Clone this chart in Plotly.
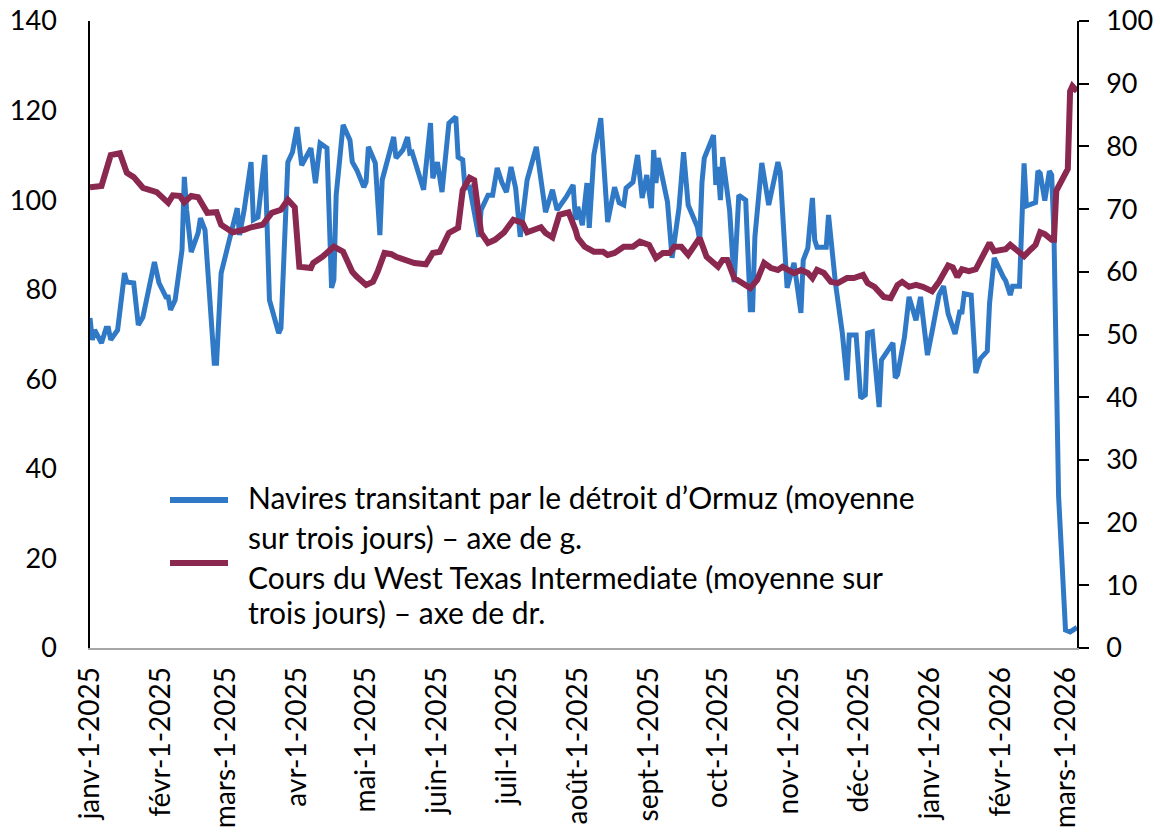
import plotly.graph_objects as go

# --- Data -------------------------------------------------------------
ships_dates = [
    "2025-01-01", "2025-01-02", "2025-01-03", "2025-01-06", "2025-01-08", "2025-01-09", "2025-01-10",
    "2025-01-13", "2025-01-16", "2025-01-17", "2025-01-20", "2025-01-22", "2025-01-24", "2025-01-26",
    "2025-01-29", "2025-01-31", "2025-02-03", "2025-02-04", "2025-02-05", "2025-02-07", "2025-02-10",
    "2025-02-11", "2025-02-12", "2025-02-14", "2025-02-17", "2025-02-18", "2025-02-20", "2025-02-24",
    "2025-02-25", "2025-02-27", "2025-03-04", "2025-03-06", "2025-03-07", "2025-03-09", "2025-03-12",
    "2025-03-13", "2025-03-15", "2025-03-18", "2025-03-20", "2025-03-24", "2025-03-25", "2025-03-28",
    "2025-03-30", "2025-04-01", "2025-04-03", "2025-04-07", "2025-04-09", "2025-04-11", "2025-04-14",
    "2025-04-16", "2025-04-17", "2025-04-18", "2025-04-21", "2025-04-24", "2025-04-25", "2025-04-27",
    "2025-04-30", "2025-05-01", "2025-05-02", "2025-05-05", "2025-05-07", "2025-05-08", "2025-05-13",
    "2025-05-14", "2025-05-17", "2025-05-19", "2025-05-20", "2025-05-21", "2025-05-26", "2025-05-29",
    "2025-05-30", "2025-06-01", "2025-06-03", "2025-06-06", "2025-06-09", "2025-06-10", "2025-06-12",
    "2025-06-13", "2025-06-15", "2025-06-19", "2025-06-20", "2025-06-23", "2025-06-25", "2025-06-27",
    "2025-06-29", "2025-07-01", "2025-07-03", "2025-07-05", "2025-07-07", "2025-07-10", "2025-07-14",
    "2025-07-18", "2025-07-21", "2025-07-23", "2025-07-27", "2025-07-30", "2025-07-31", "2025-08-01",
    "2025-08-03", "2025-08-05", "2025-08-06", "2025-08-08", "2025-08-11", "2025-08-14", "2025-08-17",
    "2025-08-19", "2025-08-21", "2025-08-22", "2025-08-25", "2025-08-27", "2025-08-29", "2025-08-31",
    "2025-09-02", "2025-09-03", "2025-09-04", "2025-09-05", "2025-09-09", "2025-09-11", "2025-09-14",
    "2025-09-16", "2025-09-18", "2025-09-22", "2025-09-23", "2025-09-24", "2025-09-25", "2025-09-29",
    "2025-09-30", "2025-10-01", "2025-10-02", "2025-10-03", "2025-10-06", "2025-10-08", "2025-10-10",
    "2025-10-13", "2025-10-15", "2025-10-16", "2025-10-17", "2025-10-20", "2025-10-23", "2025-10-27",
    "2025-10-28", "2025-10-31", "2025-11-03", "2025-11-06", "2025-11-07", "2025-11-09", "2025-11-11",
    "2025-11-12", "2025-11-13", "2025-11-17", "2025-11-18", "2025-11-21", "2025-11-24", "2025-11-26",
    "2025-11-27", "2025-11-30", "2025-12-02", "2025-12-04", "2025-12-05", "2025-12-07", "2025-12-10",
    "2025-12-11", "2025-12-16", "2025-12-17", "2025-12-18", "2025-12-21", "2025-12-23", "2025-12-26",
    "2025-12-28", "2025-12-31", "2026-01-02", "2026-01-05", "2026-01-07", "2026-01-09", "2026-01-12",
    "2026-01-13", "2026-01-14", "2026-01-15", "2026-01-16", "2026-01-19", "2026-01-21", "2026-01-23",
    "2026-01-26", "2026-01-27", "2026-01-29", "2026-02-02", "2026-02-03", "2026-02-05", "2026-02-06",
    "2026-02-09", "2026-02-10", "2026-02-11", "2026-02-12", "2026-02-16", "2026-02-17", "2026-02-18",
    "2026-02-20", "2026-02-22", "2026-02-23", "2026-02-24", "2026-02-26", "2026-03-01", "2026-03-03",
    "2026-03-06",
]
ships_values = [
    73.7, 68.8, 71.0, 68.1, 71.4, 71.4, 68.8,
    71.0, 83.7, 81.7, 81.5, 72.1, 73.9, 78.4,
    86.2, 81.5, 78.4, 78.4, 75.5, 77.7, 88.9,
    105.2, 97.8, 88.4, 92.7, 96.0, 93.3, 63.6,
    63.6, 83.7, 93.8, 98.2, 92.2, 97.8, 108.5,
    95.6, 96.2, 110.1, 77.7, 70.3, 71.4, 108.5,
    110.7, 116.3, 107.8, 111.6, 103.8, 112.7, 111.6,
    80.4, 82.2, 101.1, 116.8, 113.4, 108.5, 106.7,
    102.9, 104.0, 111.9, 108.3, 92.2, 104.5, 114.1,
    109.4, 111.2, 114.1, 110.5, 110.7, 102.3, 117.2,
    104.9, 108.5, 101.8, 117.2, 118.6, 109.6, 109.0,
    102.7, 102.9, 91.8, 97.8, 101.1, 101.1, 107.2,
    104.0, 101.8, 107.4, 102.7, 91.8, 104.5, 111.9,
    97.3, 102.3, 97.8, 100.7, 103.4, 95.6, 98.5,
    94.4, 103.8, 93.8, 110.1, 118.3, 95.1, 102.9,
    99.4, 98.9, 102.7, 104.0, 110.1, 100.5, 105.6,
    98.2, 111.2, 103.8, 109.4, 99.6, 87.1, 98.2,
    110.7, 98.9, 94.0, 91.1, 104.0, 109.4, 114.5,
    103.4, 107.4, 100.0, 109.6, 97.8, 81.7, 101.1,
    100.0, 75.5, 75.5, 91.8, 108.3, 98.9, 108.5,
    106.3, 80.4, 86.0, 74.8, 86.6, 89.3, 100.5,
    91.1, 89.5, 89.5, 96.7, 81.5, 70.3, 59.8,
    69.9, 69.9, 55.8, 56.5, 70.3, 70.6, 53.8,
    64.3, 68.1, 60.3, 61.0, 69.4, 78.4, 73.2,
    78.4, 65.4, 70.6, 78.8, 80.8, 74.6, 70.1,
    72.1, 75.0, 75.0, 79.1, 78.8, 61.4, 64.6,
    66.3, 77.0, 87.1, 82.8, 82.0, 78.8, 80.8,
    80.8, 99.1, 108.2, 98.7, 99.5, 106.5, 106.0,
    99.9, 106.5, 105.6, 92.0, 33.9, 4.0, 3.6,
    4.6,
]

wti_dates = [
    "2025-01-01", "2025-01-06", "2025-01-10", "2025-01-14", "2025-01-17", "2025-01-20", "2025-01-24",
    "2025-01-28", "2025-01-30", "2025-02-04", "2025-02-06", "2025-02-09", "2025-02-11", "2025-02-14",
    "2025-02-17", "2025-02-21", "2025-02-25", "2025-02-27", "2025-03-04", "2025-03-09", "2025-03-12",
    "2025-03-17", "2025-03-21", "2025-03-25", "2025-03-28", "2025-03-31", "2025-04-02", "2025-04-07",
    "2025-04-08", "2025-04-12", "2025-04-17", "2025-04-21", "2025-04-25", "2025-04-27", "2025-05-01",
    "2025-05-04", "2025-05-06", "2025-05-09", "2025-05-12", "2025-05-14", "2025-05-18", "2025-05-22",
    "2025-05-27", "2025-05-30", "2025-06-02", "2025-06-06", "2025-06-10", "2025-06-12", "2025-06-15",
    "2025-06-17", "2025-06-20", "2025-06-23", "2025-06-26", "2025-06-30", "2025-07-04", "2025-07-08",
    "2025-07-10", "2025-07-16", "2025-07-18", "2025-07-21", "2025-07-24", "2025-07-28", "2025-07-31",
    "2025-08-01", "2025-08-04", "2025-08-08", "2025-08-12", "2025-08-14", "2025-08-17", "2025-08-21",
    "2025-08-25", "2025-08-28", "2025-09-01", "2025-09-04", "2025-09-07", "2025-09-10", "2025-09-12",
    "2025-09-15", "2025-09-18", "2025-09-21", "2025-09-23", "2025-09-26", "2025-10-01", "2025-10-03",
    "2025-10-05", "2025-10-08", "2025-10-12", "2025-10-15", "2025-10-18", "2025-10-21", "2025-10-24",
    "2025-10-27", "2025-10-29", "2025-11-01", "2025-11-03", "2025-11-06", "2025-11-09", "2025-11-11",
    "2025-11-13", "2025-11-16", "2025-11-19", "2025-11-22", "2025-11-26", "2025-11-29", "2025-12-03",
    "2025-12-05", "2025-12-08", "2025-12-12", "2025-12-15", "2025-12-18", "2025-12-20", "2025-12-23",
    "2025-12-26", "2025-12-29", "2026-01-02", "2026-01-05", "2026-01-08", "2026-01-09", "2026-01-11",
    "2026-01-13", "2026-01-15", "2026-01-18", "2026-01-21", "2026-01-23", "2026-01-25", "2026-01-27",
    "2026-01-29", "2026-02-03", "2026-02-05", "2026-02-07", "2026-02-11", "2026-02-14", "2026-02-16",
    "2026-02-18", "2026-02-20", "2026-02-23", "2026-02-24", "2026-02-25", "2026-02-27", "2026-03-02",
    "2026-03-03", "2026-03-04", "2026-03-06",
]
wti_values = [
    73.5, 73.7, 78.6, 78.9, 75.8, 75.1, 73.4,
    72.9, 72.7, 71.0, 72.2, 72.1, 71.1, 72.1,
    71.9, 69.4, 69.5, 67.5, 66.3, 66.7, 67.1,
    67.5, 69.4, 69.9, 71.5, 70.3, 60.8, 60.6,
    61.4, 62.4, 64.0, 63.2, 60.0, 59.2, 57.9,
    58.4, 60.0, 63.0, 62.8, 62.4, 61.9, 61.4,
    61.2, 63.0, 63.2, 66.2, 67.0, 73.0, 75.0,
    74.6, 66.2, 64.6, 65.1, 66.3, 68.3, 67.8,
    66.3, 67.1, 66.2, 65.5, 69.1, 69.5, 66.7,
    65.4, 64.0, 63.2, 63.2, 62.7, 63.0, 64.0,
    64.0, 64.8, 64.3, 62.2, 63.0, 63.0, 64.0,
    64.0, 62.7, 64.6, 65.4, 62.4, 60.8, 61.9,
    61.9, 59.0, 58.2, 57.4, 58.7, 61.4, 60.6,
    60.3, 60.8, 60.3, 59.8, 60.3, 59.8, 59.0,
    60.3, 59.8, 58.4, 58.2, 59.0, 59.0, 59.5,
    58.2, 57.6, 56.0, 55.8, 57.9, 58.4, 57.6,
    57.9, 57.6, 56.9, 58.4, 60.7, 61.0, 60.7,
    59.2, 60.4, 60.1, 60.4, 61.9, 63.6, 64.6,
    63.3, 63.6, 64.3, 63.6, 62.5, 63.6, 64.3,
    66.3, 66.0, 65.1, 65.1, 72.9, 74.3, 76.4,
    88.8, 89.6, 88.8,
]

tick_dates = [
    "2025-01-01", "2025-02-01", "2025-03-01", "2025-04-01", "2025-05-01",
    "2025-06-01", "2025-07-01", "2025-08-01", "2025-09-01", "2025-10-01",
    "2025-11-01", "2025-12-01", "2026-01-01", "2026-02-01", "2026-03-01",
]
tick_labels = [
    "janv-1-2025", "févr-1-2025", "mars-1-2025", "avr-1-2025", "mai-1-2025",
    "juin-1-2025", "juil-1-2025", "août-1-2025", "sept-1-2025", "oct-1-2025",
    "nov-1-2025", "déc-1-2025", "janv-1-2026", "févr-1-2026", "mars-1-2026",
]

legend_lines_ships = ["Navires transitant par le détroit d’Ormuz (moyenne", "sur trois jours) – axe de g."]
legend_lines_wti = ["Cours du West Texas Intermediate (moyenne sur", "trois jours) – axe de dr."]

BLUE = "#3079c6"
MAROON = "#8b2850"
FONT = "Lato, 'Open Sans', sans-serif"
Y_FS = 27
X_FS = 28
LEG_FS = 30

FIG_W, FIG_H = 1160, 835
L, R, T, B = 90, 83, 21, 187

# --- Figure -----------------------------------------------------------
fig = go.Figure()
fig.add_trace(go.Scatter(
    x=ships_dates, y=ships_values, mode="lines", name="Navires",
    line=dict(color=BLUE, width=5), yaxis="y", showlegend=False,
))
fig.add_trace(go.Scatter(
    x=wti_dates, y=wti_values, mode="lines", name="WTI",
    line=dict(color=MAROON, width=6), yaxis="y2", showlegend=False,
))

# Manual legend (symbols + text), positions relative to the plot area
W = FIG_W - L - R
H = FIG_H - T - B
def px(xp):
    return xp / W
def py(yp):
    return (H - yp) / H

for color, ysym in ((BLUE, 479), (MAROON, 542)):
    fig.add_shape(type="line", xref="paper", yref="paper",
                  x0=px(80), x1=px(138), y0=py(ysym), y1=py(ysym),
                  line=dict(color=color, width=6))

for text, yline in zip(legend_lines_ships + legend_lines_wti, (476, 516, 556, 591)):
    fig.add_annotation(text=text, xref="paper", yref="paper", x=px(156), y=py(yline),
                       xanchor="left", yanchor="middle", showarrow=False,
                       font=dict(family=FONT, size=LEG_FS, color="black"))

fig.update_layout(
    width=FIG_W, height=FIG_H,
    margin=dict(l=L, r=R, t=T, b=B, autoexpand=False),
    paper_bgcolor="white", plot_bgcolor="white",
    font=dict(family=FONT, size=Y_FS, color="black"),
    showlegend=False,
    xaxis=dict(
        type="date", range=["2025-01-01", "2026-03-06"],
        tickmode="array", tickvals=tick_dates, ticktext=tick_labels,
        tickangle=-90, showgrid=False, zeroline=False,
        showline=True, linecolor="#a6a6a6", linewidth=1.5,
        ticks="", ticklabelstandoff=6, automargin=False, ticklabeloverflow="allow",
        tickfont=dict(family=FONT, size=X_FS, color="black"),
    ),
    yaxis=dict(
        range=[0, 140], tickmode="linear", tick0=0, dtick=20,
        showgrid=False, zeroline=False, showline=True, linecolor="black", linewidth=1.5,
        ticks="", ticklabelstandoff=26, automargin=False, ticklabeloverflow="allow",
        tickfont=dict(family=FONT, size=Y_FS, color="black"),
    ),
    yaxis2=dict(
        range=[0, 100], tickmode="linear", tick0=0, dtick=10,
        overlaying="y", side="right", anchor="x",
        showgrid=False, zeroline=False, showline=True, linecolor="black", linewidth=1.5,
        ticks="outside", ticklen=10, tickwidth=1.5, tickcolor="black",
        ticklabelstandoff=12, automargin=False, ticklabeloverflow="allow",
        tickfont=dict(family=FONT, size=Y_FS, color="black"),
    ),
)

# Remove the default 8px page margin so the figure fills the window exactly.
fig.write_html(
    "out.html",
    config={"displayModeBar": False},
    post_script="document.body.style.margin='0';document.body.style.overflow='hidden';",
)
